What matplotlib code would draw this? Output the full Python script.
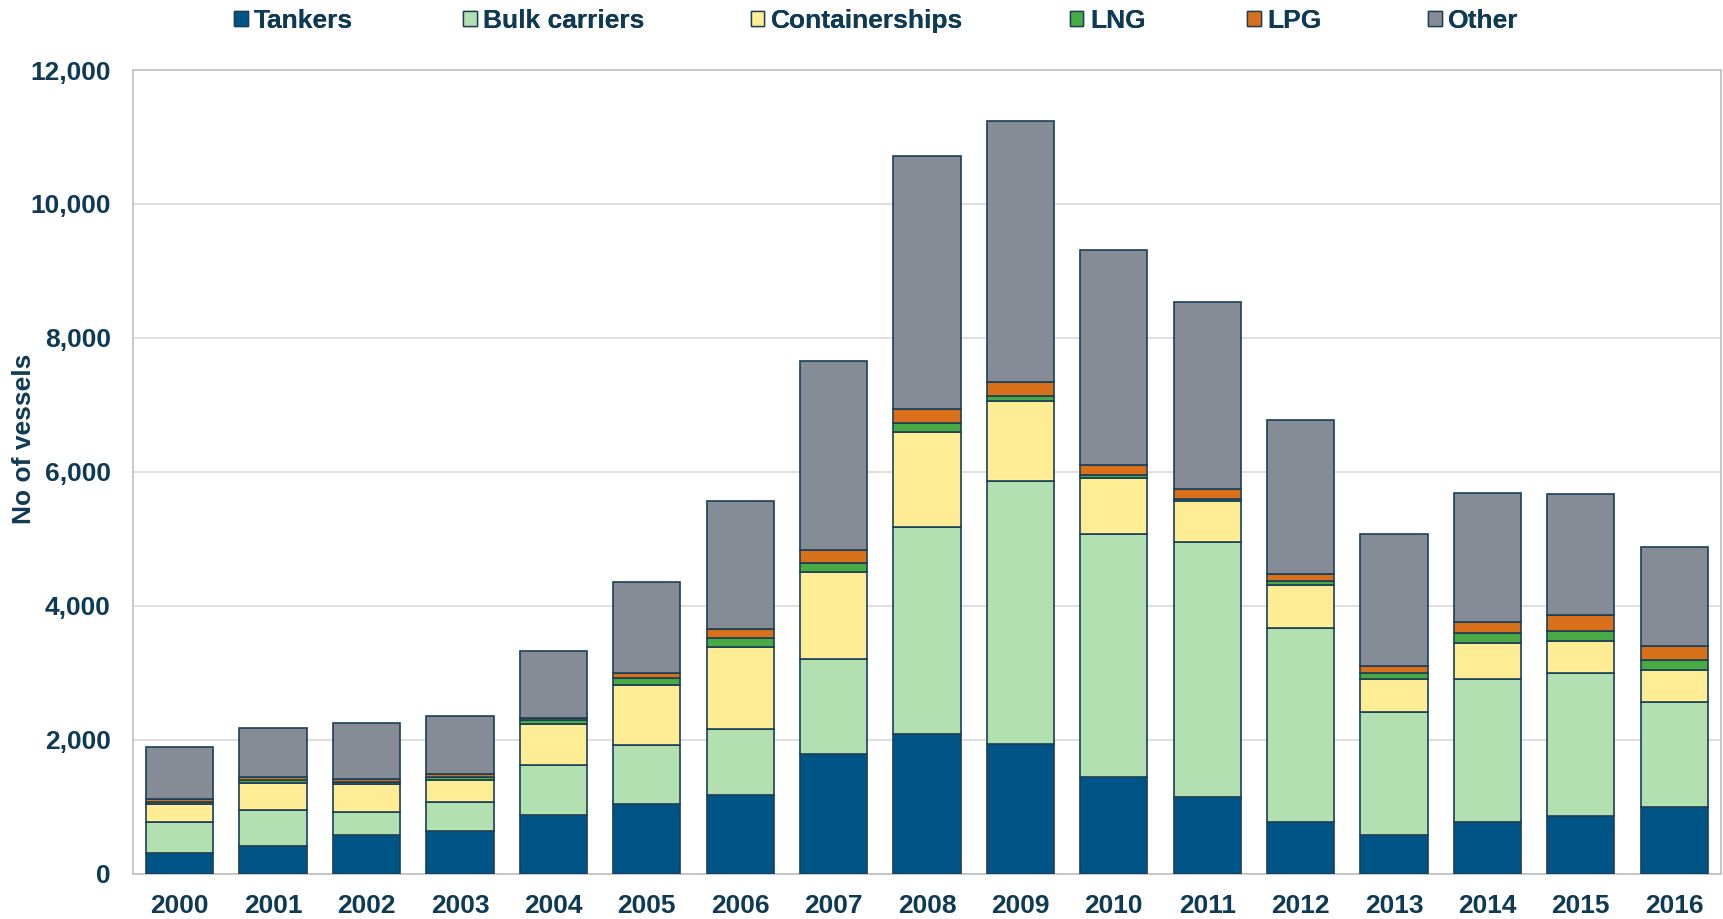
import numpy as np
import matplotlib.pyplot as plt
from matplotlib.ticker import FuncFormatter
from matplotlib.patches import Patch

# Data (number of vessels by type)
years = ['2000', '2001', '2002', '2003', '2004', '2005', '2006', '2007', '2008',
         '2009', '2010', '2011', '2012', '2013', '2014', '2015', '2016']
tankers = [300, 410, 570, 630, 875, 1040, 1170, 1780, 2080, 1930, 1440, 1150, 770, 575, 770, 855, 1000]
bulk = [470, 535, 355, 435, 740, 880, 990, 1420, 3090, 3930, 3630, 3800, 2900, 1840, 2140, 2135, 1560]
containers = [275, 410, 405, 325, 620, 900, 1220, 1300, 1420, 1190, 830, 620, 645, 485, 540, 480, 475]
lng = [20, 40, 40, 55, 60, 100, 140, 130, 135, 85, 45, 30, 60, 90, 135, 150, 155]
lpg = [45, 40, 45, 45, 30, 70, 130, 200, 215, 200, 155, 150, 105, 110, 165, 235, 215]
other = [780, 745, 830, 860, 1005, 1360, 1910, 2820, 3780, 3910, 3210, 2790, 2300, 1970, 1940, 1810, 1470]

labels = ['Tankers', 'Bulk carriers', 'Containerships', 'LNG', 'LPG', 'Other']
colors = ['#005587', '#B3E0B0', '#FFED95', '#4AAA44', '#D9711B', '#868C96']
# left edge of each legend entry, figure fraction
legend_x = [0.136, 0.269, 0.436, 0.621, 0.724, 0.829]

navy = '#0E3A55'
edge = '#1B3F58'
fs = 19
plt.rcParams['font.family'] = ['Liberation Sans', 'DejaVu Sans']
plt.rcParams['font.weight'] = 'bold'

fig = plt.figure(figsize=(17.23, 9.19), dpi=100)
ax = fig.add_axes([0.0772, 0.0495, 0.9216, 0.8743])

x = np.arange(len(years))
bottom = np.zeros(len(years))
for vals, lab, col in zip([tankers, bulk, containers, lng, lpg, other], labels, colors):
    ax.bar(x, vals, width=0.72, bottom=bottom, color=col, edgecolor=edge,
           linewidth=1.2, label=lab, zorder=3)
    bottom += np.array(vals)

ax.set_xlim(-0.5, len(years) - 0.5)
ax.set_ylim(0, 12000)
ax.set_yticks(np.arange(0, 12001, 2000))
ax.yaxis.set_major_formatter(FuncFormatter(lambda v, p: f'{int(v):,}'))
ax.set_xticks(x)
ax.set_xticklabels(years)
ax.tick_params(axis='both', length=0, labelsize=fs, labelcolor=navy)
ax.tick_params(axis='y', pad=16)
ax.tick_params(axis='x', pad=15)
ax.grid(axis='y', color='#D9D9D9', linewidth=1.2, zorder=0)
for s in ax.spines.values():
    s.set_color('#BFBFBF')
    s.set_linewidth(1.2)

ax.set_ylabel('No of vessels', fontsize=fs, color=navy, fontweight='bold')
ax.yaxis.set_label_coords(-0.061, 0.541)

# legend entries placed one by one, as in the original
for lab, col, lx in zip(labels, colors, legend_x):
    leg = fig.legend(handles=[Patch(facecolor=col, edgecolor=edge, linewidth=1.0)],
                     labels=[lab], loc='center left', bbox_to_anchor=(lx, 0.977),
                     frameon=False, fontsize=fs, handlelength=0.5, handleheight=0.5,
                     handletextpad=0.25, borderpad=0, borderaxespad=0, labelcolor=navy)
    fig.add_artist(leg)

fig.savefig('out.png', dpi=100)
